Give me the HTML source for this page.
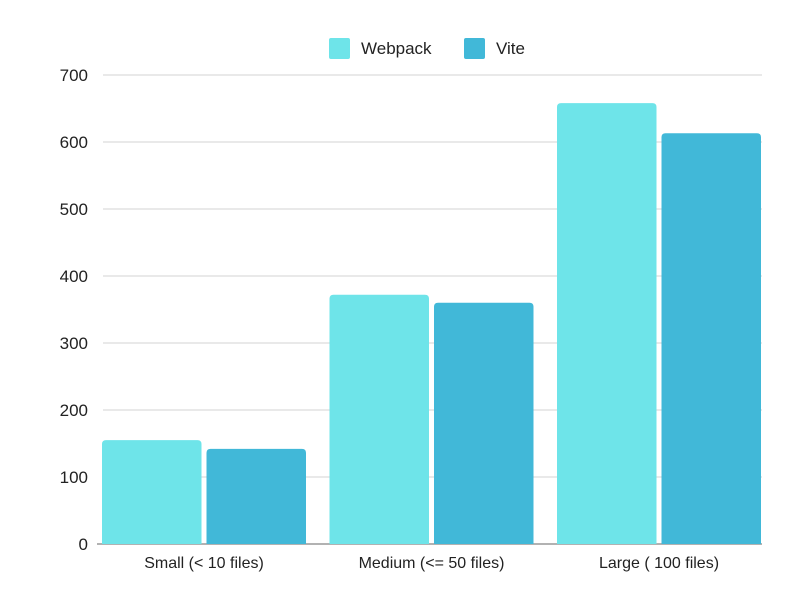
<!DOCTYPE html>
<html><head><meta charset="utf-8"><style>
html,body{margin:0;padding:0;background:#fff;}
svg{display:block;font-family:"Liberation Sans",sans-serif;}
</style></head><body>
<svg id="chart" width="800" height="600">
<g id="grid"></g>
<g id="bars"></g>
<g id="yaxis"></g>
<g id="xaxis"></g>
<g>
<g><rect x="329" y="38" width="21" height="21" rx="2" fill="#6ee4e9"/><text x="361" y="54" font-size="17" fill="#222">Webpack</text></g>
<g><rect x="464" y="38" width="21" height="21" rx="2" fill="#41b8d8"/><text x="496" y="54" font-size="17" fill="#222">Vite</text></g>
</g>
</svg>
<script>
const categories = ["Small (< 10 files)", "Medium (<= 50 files)", "Large ( 100 files)"];
const webpack = [155, 372, 658];
const vite = [142, 360, 613];
const yTicks = [0, 100, 200, 300, 400, 500, 600, 700];
const NS = "http://www.w3.org/2000/svg";
const y0 = 544, yTop = 75, yMax = 700;
function yScale(v){ return y0 - (v / yMax) * (y0 - yTop); }
function bandX(i){ return 102 + i * 227.5; }
const bw = 99.5, gap = 5;
function mk(tag, attrs, parent){ const e = document.createElementNS(NS, tag); for (const k in attrs) e.setAttribute(k, attrs[k]); parent.appendChild(e); return e; }
const grid = document.getElementById('grid'), bars = document.getElementById('bars'), ya = document.getElementById('yaxis'), xa = document.getElementById('xaxis');
yTicks.forEach(t => {
  const y = yScale(t);
  const l = mk('line', {x1: t === 0 ? 97 : 103, x2: 762, y1: y, y2: y, stroke: t === 0 ? '#999' : '#e2e2e2', 'stroke-width': 1.5}, grid);
  
  
  const tx = mk('text', {x: 88, y: y + 6, 'text-anchor': 'end', 'font-size': 17, fill: '#222'}, ya);
  tx.textContent = t;
  
  
});
function bar(x, v, color, name){
  const y = yScale(v), h = y0 - y;
  const p = mk('path', {d: `M${x},${y0} L${x},${y+4} Q${x},${y} ${x+4},${y} L${x+bw-4},${y} Q${x+bw},${y} ${x+bw},${y+4} L${x+bw},${y0} Z`, fill: color}, bars);
  
  
}
categories.forEach((c, i) => {
  const x = bandX(i);
  bar(x, webpack[i], '#6ee4e9', 'bar-webpack-' + i);
  bar(x + bw + gap, vite[i], '#41b8d8', 'bar-vite-' + i);
  const t = mk('text', {x: x + bw + gap / 2, y: 568, 'text-anchor': 'middle', 'font-size': 16, fill: '#222'}, xa);
  t.textContent = c;
  
  
});
</script>
</body></html>
